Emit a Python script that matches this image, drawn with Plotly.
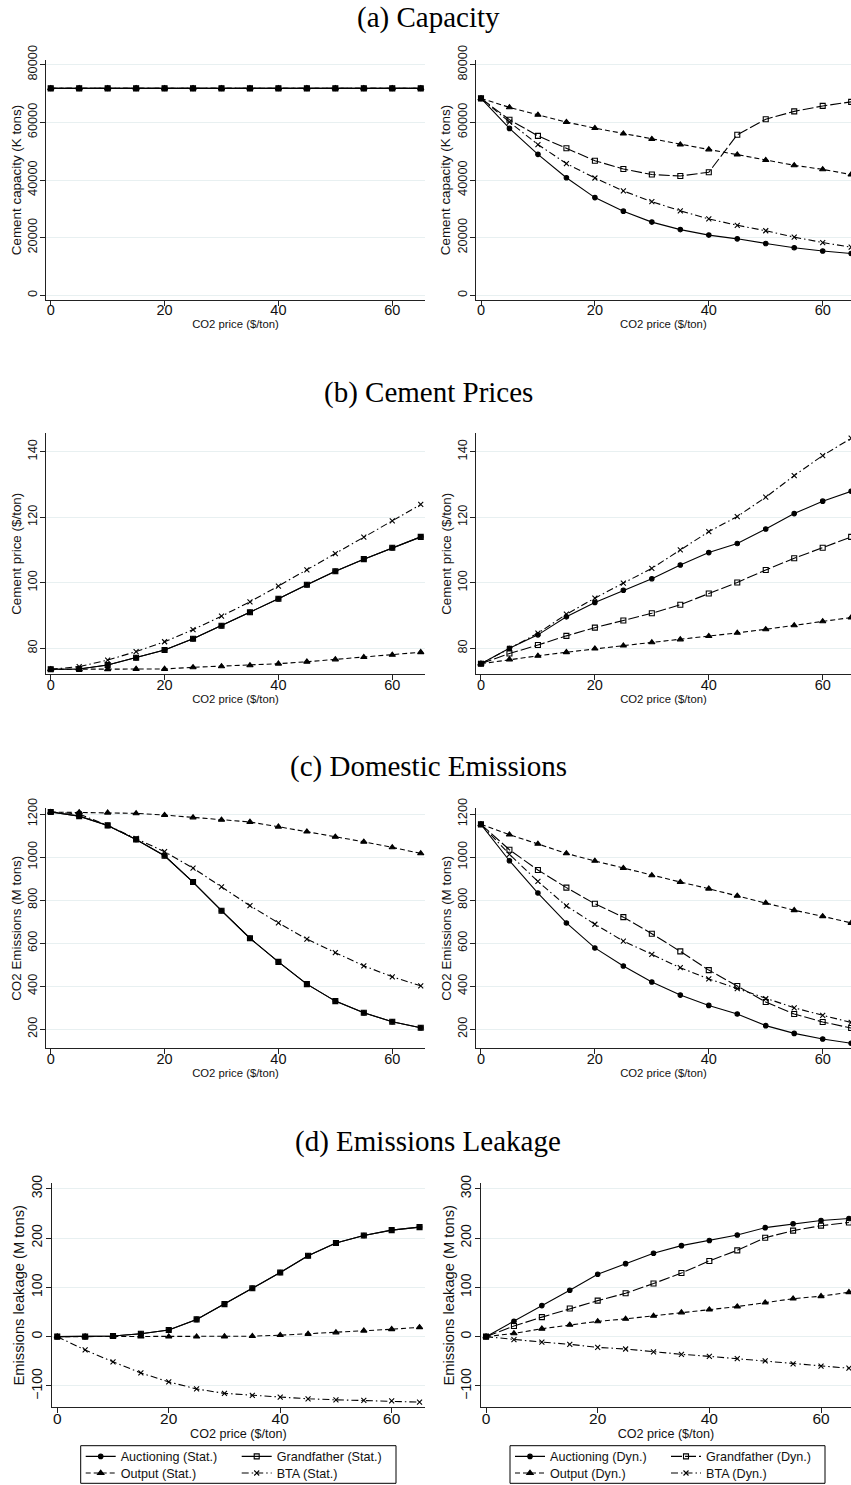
import plotly.graph_objects as go

W, H = 851, 1485

price = [0, 5, 10, 15, 20, 25, 30, 35, 40, 45, 50, 55, 60, 65]

# (a) Capacity (K tons)
cap_stat_auction = [71800, 71800, 71800, 71800, 71800, 71800, 71800, 71800, 71800, 71800, 71800, 71800, 71800, 71800]
cap_stat_grand = [71800, 71800, 71800, 71800, 71800, 71800, 71800, 71800, 71800, 71800, 71800, 71800, 71800, 71800]
cap_stat_output = [71800, 71800, 71800, 71800, 71800, 71800, 71800, 71800, 71800, 71800, 71800, 71800, 71800, 71800]
cap_stat_bta = [71800, 71800, 71800, 71800, 71800, 71800, 71800, 71800, 71800, 71800, 71800, 71800, 71800, 71800]
cap_dyn_auction = [68300, 57900, 48900, 40800, 33900, 29200, 25400, 22800, 20900, 19600, 18000, 16500, 15400, 14500]
cap_dyn_grand = [68300, 60900, 55300, 51000, 46700, 43800, 41900, 41400, 42700, 55700, 61100, 63800, 65700, 67100]
cap_dyn_output = [68300, 65200, 62600, 60100, 58000, 56100, 54200, 52300, 50600, 48800, 46900, 45100, 43700, 41900]
cap_dyn_bta = [68300, 60100, 52300, 45700, 40700, 36200, 32500, 29300, 26500, 24300, 22400, 20200, 18300, 16700]

# (b) Cement prices ($/ton)
pr_stat_auction = [73.6, 73.7, 74.9, 77.1, 79.5, 82.9, 86.9, 91.0, 95.1, 99.4, 103.5, 107.2, 110.7, 114.0]
pr_stat_grand = [73.6, 73.7, 74.9, 77.1, 79.5, 82.9, 86.9, 91.0, 95.1, 99.4, 103.5, 107.2, 110.7, 114.0]
pr_stat_output = [73.6, 73.6, 73.6, 73.7, 73.7, 74.2, 74.5, 74.8, 75.3, 75.9, 76.6, 77.3, 78.0, 78.8]
pr_stat_bta = [73.6, 74.4, 76.4, 79.0, 82.0, 85.7, 89.8, 94.2, 99.0, 103.9, 108.9, 113.9, 118.9, 123.9]
pr_dyn_auction = [75.3, 80.0, 84.1, 89.6, 94.0, 97.7, 101.2, 105.4, 109.2, 112.0, 116.4, 121.1, 124.9, 127.9]
pr_dyn_grand = [75.3, 78.4, 81.0, 83.8, 86.3, 88.5, 90.7, 93.3, 96.7, 100.1, 103.9, 107.5, 110.7, 114.0]
pr_dyn_output = [75.3, 76.6, 77.7, 78.8, 79.9, 80.8, 81.8, 82.7, 83.7, 84.7, 85.8, 87.0, 88.2, 89.4]
pr_dyn_bta = [75.3, 80.0, 84.6, 90.4, 95.3, 99.9, 104.4, 110.0, 115.6, 120.2, 126.1, 132.7, 138.8, 144.1]

# (c) Domestic emissions (M tons)
em_stat_auction = [1209, 1190, 1147, 1082, 1006, 884, 751, 623, 513, 410, 331, 277, 235, 207]
em_stat_grand = [1209, 1190, 1147, 1082, 1006, 884, 751, 623, 513, 410, 331, 277, 235, 207]
em_stat_output = [1209, 1208, 1206, 1203, 1195, 1184, 1173, 1163, 1141, 1118, 1094, 1071, 1045, 1017]
em_stat_bta = [1209, 1200, 1147, 1087, 1025, 949, 862, 774, 694, 619, 556, 495, 444, 402]
em_dyn_auction = [1152, 983, 833, 694, 578, 494, 420, 359, 311, 271, 217, 181, 155, 135]
em_dyn_grand = [1152, 1034, 940, 858, 783, 721, 644, 562, 475, 401, 327, 271, 234, 206]
em_dyn_output = [1152, 1104, 1061, 1017, 982, 949, 915, 884, 853, 820, 787, 753, 725, 694]
em_dyn_bta = [1152, 1013, 887, 773, 688, 610, 548, 486, 434, 389, 342, 300, 265, 232]

# (d) Emissions leakage (M tons)
lk_stat_auction = [0, 0, 1.3, 6, 13.5, 35, 66, 98, 130, 164, 190, 205, 216, 222]
lk_stat_grand = [0, 0, 1.3, 6, 13.5, 35, 66, 98, 130, 164, 190, 205, 216, 222]
lk_stat_output = [0, 0, 0, 0, 0, 0, 0.3, 1, 3, 5.5, 8.5, 12, 15, 19]
lk_stat_bta = [0, -27, -51, -73.5, -91.7, -106, -115, -119, -122.6, -126, -128, -129.3, -130, -132.7]
lk_dyn_auction = [0, 31, 63, 94, 126.5, 148, 169, 184.5, 195, 206, 221, 229, 235.5, 239.5]
lk_dyn_grand = [0, 21.5, 39.6, 57, 73, 88, 107.7, 129, 153.5, 175, 200.6, 215, 225, 231.5]
lk_dyn_output = [0, 6.7, 16, 24, 31, 36, 42, 49, 55, 61, 69, 77, 82, 90]
lk_dyn_bta = [0, -6, -11, -15.6, -21.7, -25, -31, -35.8, -39.9, -44.5, -49, -55, -59.7, -64]

section_titles = ["(a) Capacity", "(b) Cement Prices", "(c) Domestic Emissions", "(d) Emissions Leakage"]
y_titles = ["Cement capacity (K tons)", "Cement price ($/ton)", "CO2 Emissions (M tons)", "Emissions leakage (M tons)"]
x_title = "CO2 price ($/ton)"
x_ticks = [0, 20, 40, 60]
y_ticks = [
    [0, 20000, 40000, 60000, 80000],
    [80, 100, 120, 140],
    [200, 400, 600, 800, 1000, 1200],
    [-100, 0, 100, 200, 300],
]
series_names = ["Auctioning", "Grandfather", "Output", "BTA"]

data = [
    [[cap_stat_auction, cap_stat_grand, cap_stat_output, cap_stat_bta],
     [cap_dyn_auction, cap_dyn_grand, cap_dyn_output, cap_dyn_bta]],
    [[pr_stat_auction, pr_stat_grand, pr_stat_output, pr_stat_bta],
     [pr_dyn_auction, pr_dyn_grand, pr_dyn_output, pr_dyn_bta]],
    [[em_stat_auction, em_stat_grand, em_stat_output, em_stat_bta],
     [em_dyn_auction, em_dyn_grand, em_dyn_output, em_dyn_bta]],
    [[lk_stat_auction, lk_stat_grand, lk_stat_output, lk_stat_bta],
     [lk_dyn_auction, lk_dyn_grand, lk_dyn_output, lk_dyn_bta]],
]

# ---------------- layout geometry (pixels) ----------------
SANS = "Liberation Sans, Arial, sans-serif"
SERIF = "Liberation Serif, Times New Roman, serif"

rows = [
    dict(yd=(60, 300), yr=(-1614, 81625), xl=(46, 425), xr=(475.7, 851),
         xrl=(-0.83, 65.75), xrr=(-0.93, 64.97), title_y=17,
         ytf=12.8, xtf=14.5, xtit=11.3, ytit=13.4),
    dict(yd=(433.3, 674.3), yr=(72.07, 145.6), xl=(46, 425), xr=(476, 851),
         xrl=(-0.83, 65.75), xrr=(-0.87, 64.97), title_y=393,
         ytf=12.8, xtf=14.5, xtit=11.3, ytit=13.4),
    dict(yd=(808.3, 1048.3), yr=(111.8, 1226.5), xl=(46, 425), xr=(476, 851),
         xrl=(-0.83, 65.75), xrr=(-0.87, 64.97), title_y=767,
         ytf=12.8, xtf=14.5, xtit=11.3, ytit=13.4),
    dict(yd=(1183.3, 1407.3), yr=(-143.2, 310.9), xl=(51.7, 425), xr=(481, 851),
         xrl=(-1.0, 65.98), xrr=(-0.9, 65.37), title_y=1141,
         ytf=14, xtf=15.5, xtit=12.6, ytit=14.7),
]

def fx(p):
    return p / W

def fy(p):
    return 1 - p / H

styles = {
    "Auctioning": dict(symbol="circle", size=4.5),
    "Grandfather": dict(symbol="square-open", size=5),
    "Output": dict(symbol="triangle-up", size=5.5),
    "BTA": dict(symbol="x-thin-open", size=5),
}
dash_stat = {"Auctioning": "solid", "Grandfather": "solid", "Output": "5px,3px", "BTA": "7px,3px,1.5px,3px"}
dash_dyn = {"Auctioning": "solid", "Grandfather": "11px,3px", "Output": "5px,3px", "BTA": "7px,3px,1.5px,3px"}

fig = go.Figure()
layout = {}
axis_idx = 0
for r, row in enumerate(rows):
    for c in range(2):
        axis_idx += 1
        sfx = "" if axis_idx == 1 else str(axis_idx)
        xa, ya = "x" + sfx, "y" + sfx
        xd = row["xl"] if c == 0 else row["xr"]
        xrng = row["xrl"] if c == 0 else row["xrr"]
        layout["xaxis" + sfx] = dict(
            domain=[fx(xd[0]), fx(xd[1])], range=list(xrng), anchor=ya,
            tickvals=x_ticks, ticks="outside", ticklen=5, tickwidth=1, tickcolor="#222",
            ticklabelstandoff=-8, automargin=False,
            showline=True, linecolor="#222", linewidth=1, showgrid=False, zeroline=False,
            tickfont=dict(family=SANS, size=row["xtf"], color="#111"),
            title=dict(text=x_title, font=dict(family=SANS, size=row["xtit"], color="#111"), standoff=2),
            fixedrange=True,
        )
        layout["yaxis" + sfx] = dict(
            domain=[fy(row["yd"][1]), fy(row["yd"][0])], range=list(row["yr"]), anchor=xa,
            tickvals=y_ticks[r], tickformat="d", ticks="outside", ticklen=5, tickwidth=1, tickcolor="#222",
            tickangle=-90, ticklabelstandoff=-2, automargin=False,
            showline=True, linecolor="#222", linewidth=1, showgrid=True, gridcolor="#e8f0f1",
            gridwidth=1, zeroline=False,
            tickfont=dict(family=SANS, size=row["ytf"], color="#111"),
            title=dict(text=y_titles[r], font=dict(family=SANS, size=row["ytit"], color="#111"), standoff=0),
            fixedrange=True,
        )
        series = data[r][c]
        tag = "Stat." if c == 0 else "Dyn."
        dashes = dash_stat if c == 0 else dash_dyn
        for k, name in enumerate(series_names):
            st = styles[name]
            show = (r == 3)
            if c == 0:
                leg = "legend" if k < 2 else "legend2"
            else:
                leg = "legend3" if k < 2 else "legend4"
            fig.add_trace(go.Scatter(
                x=price, y=series[k], xaxis=xa, yaxis=ya,
                mode="lines+markers", name=f"{name} ({tag})",
                line=dict(color="black", width=1.1, dash=dashes[name]),
                marker=dict(symbol=st["symbol"], size=st["size"], color="black",
                            line=dict(color="black", width=1.1)),
                showlegend=show, legend=leg, hoverinfo="skip",
            ))

annotations = []
for r, row in enumerate(rows):
    annotations.append(dict(
        text=section_titles[r], x=0.503, y=fy(row["title_y"]), xref="paper", yref="paper",
        xanchor="center", yanchor="middle", showarrow=False,
        font=dict(family=SERIF, size=29, color="black"),
    ))

leg_common = dict(orientation="h", xanchor="left", yanchor="middle", bgcolor="rgba(0,0,0,0)",
                  borderwidth=0, entrywidth=111, entrywidthmode="pixels",
                  font=dict(family=SANS, size=12.6, color="#111"), traceorder="normal",
                  itemclick=False, itemdoubleclick=False)
layout["legend"] = dict(leg_common, x=fx(80.7), y=fy(1456.7))
layout["legend2"] = dict(leg_common, x=fx(80.7), y=fy(1473.3))
layout["legend3"] = dict(leg_common, x=fx(510), y=fy(1456.7))
layout["legend4"] = dict(leg_common, x=fx(510), y=fy(1473.3))

shapes = [
    dict(type="rect", xref="paper", yref="paper", x0=fx(80.7), x1=fx(396), y0=fy(1483.3), y1=fy(1445.7),
         line=dict(color="black", width=1), fillcolor="rgba(0,0,0,0)"),
    dict(type="rect", xref="paper", yref="paper", x0=fx(510), x1=fx(825), y0=fy(1483.3), y1=fy(1445.7),
         line=dict(color="black", width=1), fillcolor="rgba(0,0,0,0)"),
]

fig.update_layout(
    width=W, height=H, margin=dict(l=0, r=0, t=0, b=0, pad=0, autoexpand=False),
    paper_bgcolor="white", plot_bgcolor="white",
    annotations=annotations, shapes=shapes, **layout,
)

fig.write_html(
    "out.html",
    config={"displayModeBar": False},
    post_script=(
        "var d=document.getElementById('{plot_id}');"
        "d.style.position='absolute';d.style.top='0px';d.style.left='0px';"
        "document.documentElement.style.margin='0';document.body.style.margin='0';"
        "document.body.style.padding='0';document.documentElement.style.overflow='hidden';"
        "document.body.style.overflow='hidden';"
    ),
)
